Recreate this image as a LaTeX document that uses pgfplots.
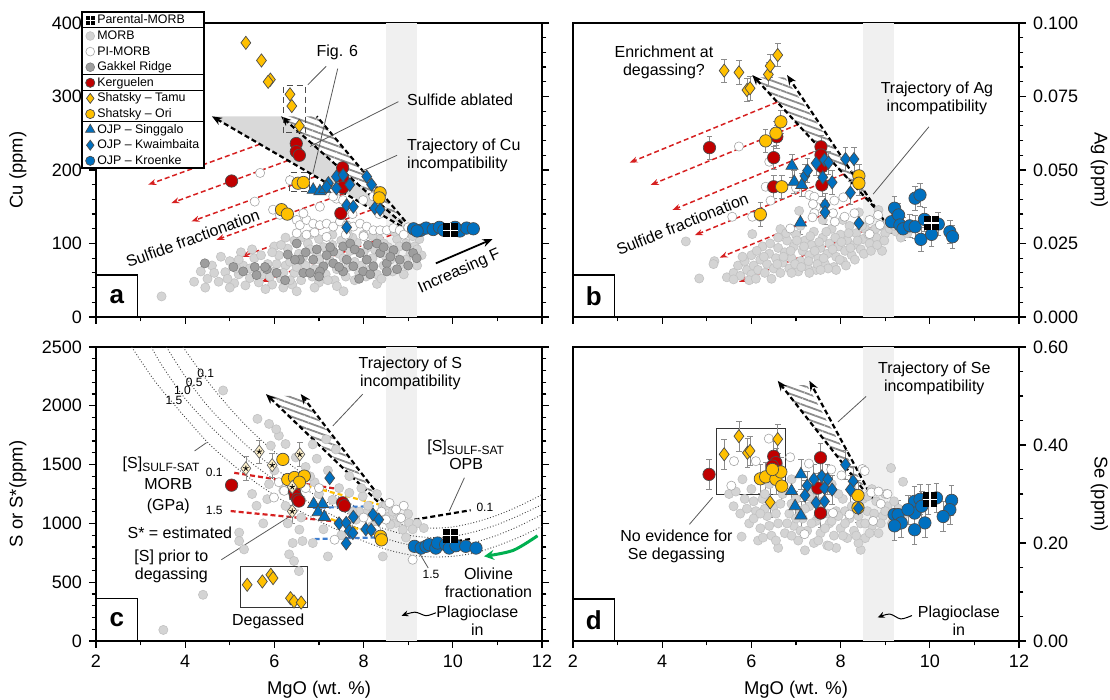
\documentclass[border=0pt]{standalone}
\usepackage{fontspec}
\setmainfont{Liberation Sans}
\usepackage{pgfplots}
\pgfplotsset{compat=1.18}
\usetikzlibrary{arrows.meta,patterns.meta,calc}
\definecolor{kergc}{HTML}{C00000}
\definecolor{yelc}{HTML}{FFC000}
\definecolor{ojpc}{HTML}{0070C0}
\definecolor{starc}{HTML}{FFF2CC}
\definecolor{rdc}{HTML}{D62020}
\definecolor{grnc}{HTML}{00B050}
\definecolor{bldc}{HTML}{3C7DD0}
\newcommand{\annot}{\fontsize{8}{9}\selectfont}
\newcommand{\smalllab}{\fontsize{6}{7}\selectfont}
\newcommand{\panellabel}{\fontsize{13}{14}\selectfont\bfseries}
\pgfdeclareplotmark{parental}{%
  \pgfpathrectangle{\pgfqpoint{-\pgfplotmarksize}{-\pgfplotmarksize}}{\pgfqpoint{2\pgfplotmarksize}{2\pgfplotmarksize}}%
  \pgfsetfillcolor{black}\pgfusepathqfill
  \begin{pgfscope}%
  \pgfsetstrokecolor{white}\pgfsetlinewidth{0.7pt}%
  \pgfpathmoveto{\pgfqpoint{-\pgfplotmarksize}{0pt}}\pgfpathlineto{\pgfqpoint{\pgfplotmarksize}{0pt}}%
  \pgfpathmoveto{\pgfqpoint{0pt}{-\pgfplotmarksize}}\pgfpathlineto{\pgfqpoint{0pt}{\pgfplotmarksize}}%
  \pgfusepathqstroke
  \end{pgfscope}%
}
\tikzset{leader/.style={draw=black!65, line width=0.4pt}}
\pgfplotsset{
  panel/.style={scale only axis, width=223pt, height=147pt, xmin=2, xmax=12,
    axis line style={line width=0.8pt}, tick style={line width=0.6pt, black},
    tick align=outside, major tick length=3.5pt, minor tick length=2.2pt,
    xtick={2,4,...,12}, minor xtick={3,5,...,11}, xtick pos=left,
    tick label style={font=\fontsize{9}{10}\selectfont},
    label style={font=\fontsize{9.2}{11}\selectfont},
    /pgf/number format/assume math mode=true, /pgf/number format/1000 sep={},
    scaled y ticks=false},
  legmark/.style={mark size=#1, legend image code/.code={\draw[##1] plot coordinates {(0pt,0pt)};}},
  morb/.style={only marks, mark=*, mark size=2.3pt, mark options={fill=black!17, draw=black!24, line width=0.3pt}},
  pimorb/.style={only marks, mark=*, mark size=2.3pt, mark options={fill=white, draw=black!35, line width=0.3pt}},
  gakkel/.style={only marks, mark=*, mark size=2.3pt, mark options={fill=black!38, draw=black!50, line width=0.3pt}},
  kerg/.style={only marks, mark=*, mark size=3.1pt, mark options={fill=kergc, draw=black!70, line width=0.35pt}},
  tamu/.style={only marks, mark=diamond*, mark size=3.3pt, mark options={fill=yelc, draw=black!70, line width=0.35pt}},
  ori/.style={only marks, mark=*, mark size=3.1pt, mark options={fill=yelc, draw=black!70, line width=0.35pt}},
  sing/.style={only marks, mark=triangle*, mark size=3.5pt, mark options={fill=ojpc, draw=black!70, line width=0.35pt}},
  kwai/.style={only marks, mark=diamond*, mark size=3.3pt, mark options={fill=ojpc, draw=black!70, line width=0.35pt}},
  kroe/.style={only marks, mark=*, mark size=3.1pt, mark options={fill=ojpc, draw=black!70, line width=0.35pt}},
  parent/.style={only marks, mark=parental, mark size=3.6pt},
  sstar/.style={only marks, mark=diamond*, mark size=3.3pt, mark options={fill=starc, draw=black!60, line width=0.35pt}},
  ebar/.style={error bars/.cd, y dir=both, y fixed=#1, error bar style={black!45, line width=0.35pt}, error mark options={black!45, line width=0.35pt, mark size=1.4pt, rotate=90}},
  redarr/.style={draw=rdc, line width=0.75pt, dash pattern=on 2.5pt off 1.5pt, -{Stealth[length=4pt,width=3pt]}},
  blkarr/.style={draw=black, line width=1.1pt, dash pattern=on 2.5pt off 1.5pt, -{Stealth[length=5pt,width=4pt]}},
  blkdash/.style={draw=black, line width=1.1pt, dash pattern=on 2.5pt off 1.5pt},
  hatch/.style={draw=none, pattern={Lines[angle=-20,distance=3pt,line width=0.9pt]}, pattern color=black!45},
  band/.style={fill=black!6, draw=none},
  lbox/.style={draw=black, fill=white, line width=0.7pt},
  ssat/.style={smooth, draw=black!75, line width=0.45pt, densely dotted},
  cdash/.style={line width=1.1pt, dash pattern=on 2.5pt off 1.5pt},
}
\begin{document}
\begin{tikzpicture}
\useasboundingbox (0,0) rectangle (555pt,350pt);

%================ PANEL A =================
\begin{axis}[panel, at={(48pt,191.5pt)}, anchor=south west,
  ymin=0, ymax=400, ytick={0,100,...,400}, minor y tick num=4, xticklabels={},
  ylabel={Cu (ppm)}, ylabel style={at={(axis description cs:-0.175,0.5)}, anchor=center},
  legend style={at={(axis description cs:-0.031,1.0367)}, anchor=north west, draw=none, fill=white,
    font=\fontsize{6.2}{7}\selectfont, inner xsep=1.5pt, inner ysep=0pt, row sep=0pt, column sep=0pt,
    nodes={inner ysep=0.6pt, inner xsep=1.2pt, text height=5pt, text depth=1.6pt}},
  legend cell align=left]
\addlegendimage{parent, legmark=2.3pt}\addlegendentry{Parental-MORB}
\addlegendimage{morb, legmark=2.2pt}\addlegendentry{MORB}
\addlegendimage{pimorb, legmark=2.2pt}\addlegendentry{PI-MORB}
\addlegendimage{gakkel, legmark=2.2pt}\addlegendentry{Gakkel Ridge}
\addlegendimage{kerg, legmark=2.3pt}\addlegendentry{Kerguelen}
\addlegendimage{tamu, legmark=2.5pt}\addlegendentry{Shatsky -- Tamu}
\addlegendimage{ori, legmark=2.3pt}\addlegendentry{Shatsky -- Ori}
\addlegendimage{sing, legmark=2.7pt}\addlegendentry{OJP -- Singgalo}
\addlegendimage{kwai, legmark=2.5pt}\addlegendentry{OJP -- Kwaimbaita}
\addlegendimage{kroe, legmark=2.3pt}\addlegendentry{OJP -- Kroenke}

\addplot[band] coordinates {(8.5,0)(9.2,0)(9.2,400)(8.5,400)} -- cycle;
\addplot[fill=black!15, draw=none] coordinates {(4.6,273)(6.15,273)(9.0,120)} -- cycle;
\addplot[hatch] coordinates {(6.15,273)(6.95,273)(9.0,122)} -- cycle;

\addplot[morb] coordinates {(4.35,62)(4.5,52)(4.6,70)(4.75,48)(4.9,61)(5.0,76)(5.1,46)(5.2,58)(5.3,70)(5.35,43)(5.45,53)(5.55,80)(5.65,47)(5.75,58)(5.85,72)(5.95,44)(6.0,62)(6.1,84)(6.15,52)(6.25,70)(6.3,93)(6.4,44)(6.45,60)(6.55,86)(6.6,50)(6.7,70)(6.75,100)(6.85,55)(6.95,84)(7.0,47)(7.1,95)(7.15,58)(7.25,76)(7.35,50)(7.45,86)(7.5,104)(7.6,55)(7.7,90)(7.8,50)(7.85,101)(7.95,70)(8.05,55)(8.1,95)(8.2,80)(8.3,58)(8.35,106)(8.45,70)(8.55,95)(8.65,62)(8.75,106)(8.85,72)(8.95,100)(9.05,86)(9.15,96)(9.25,106)(9.3,84)(6.2,40)(6.9,40)(7.4,42)(5.8,38)(4.2,48)(4.45,40)(5.0,40)(5.6,64)(6.35,75)(7.05,65)(7.8,75)(8.5,82)(8.9,58)(6.0,96)(6.6,108)(7.3,112)(8.0,112)(8.7,116)(3.47,28)(5.25,88)(4.8,82)(6.5,35)(7.55,35)(9.2,70)(8.3,45)(5.9,55)(6.05,72)(6.2,60)(6.35,50)(6.5,68)(6.65,82)(6.8,92)(6.9,65)(7.0,78)(7.2,50)(7.3,98)(7.4,65)(7.55,80)(7.65,68)(7.75,108)(7.9,60)(8.0,88)(8.15,65)(8.25,92)(8.4,52)(8.45,100)(8.6,78)(8.7,88)(8.8,96)(8.95,78)(9.1,110)(9.2,92)(6.15,98)(6.45,104)(7.0,106)(7.65,112)(8.2,110)(5.2,78)(5.45,66)(5.7,84)(5.95,88)(4.95,52)(4.65,60)(5.15,66)(5.5,92)(6.25,108)(6.8,112)};
\addplot[gakkel] coordinates {(4.44,73)(5.08,68)(5.56,68)(5.83,65)(5.60,57)(6.50,100)(6.57,78)(6.65,60)(6.87,78)(7.10,69)(7.32,89)(7.32,73)(7.54,96)(7.62,78)(7.77,69)(7.92,87)(8.07,78)(8.22,69)(8.37,87)(8.52,73)(8.67,91)(8.81,78)(8.96,96)(9.11,87)(6.80,60)(7.02,62)(7.54,62)(6.46,78)(7.99,62)(8.52,62)(9.19,80)(7.17,84)(6.24,50)(5.79,68)(6.95,92)(7.7,100)(8.3,100)(6.3,85)(6.7,88)(7.0,55)(7.25,95)(7.45,68)(7.8,92)(8.1,98)(8.45,95)(8.6,82)(8.75,65)(9.0,70)(6.05,60)(5.3,62)(7.9,52)(8.15,58)};
\addplot[pimorb] coordinates {(5.68,196)(5.56,157)(5.97,146)(6.50,132)(6.57,125)(6.72,132)(6.87,127)(7.02,125)(7.17,127)(7.32,123)(7.47,130)(7.62,125)(7.77,123)(7.92,127)(8.07,123)(8.22,118)(8.37,118)(8.52,118)(8.67,121)(8.81,118)(6.50,114)(6.72,112)(7.17,109)(7.39,161)(7.54,159)(7.99,159)(8.22,164)(6.35,186)(7.32,164)(7.02,150)(6.65,141)(6.12,139)(6.9,115)(7.6,112)(8.0,110)(8.9,112)(9.0,122)(7.75,140)(8.35,140)};

\addplot[redarr] coordinates {(5.67,235)(3.17,180)};
\addplot[redarr] coordinates {(6.31,213)(3.69,155)};
\addplot[redarr] coordinates {(6.92,191)(4.14,130)};
\addplot[redarr] coordinates {(7.57,168)(4.70,105)};
\addplot[redarr] coordinates {(8.19,146)(5.26,82)};
\addplot[redarr] coordinates {(8.96,119)(5.71,48)};
\addplot[blkarr] coordinates {(9.0,118)(4.6,273)};
\addplot[blkarr] coordinates {(9.0,120)(6.15,273)};
\addplot[blkdash] coordinates {(9.05,122)(6.95,273)};
\addplot[draw=black, line width=0.9pt, -{Stealth[length=5pt,width=4pt]}] coordinates {(9.62,73)(10.89,106)};

\draw[densely dashed, black!70, line width=0.5pt] (axis cs:6.21,251) rectangle (axis cs:6.70,315);
\draw[densely dashed, black!70, line width=0.5pt] (axis cs:6.33,171) rectangle (axis cs:6.79,196);
\draw[leader] (axis cs:7.16,341) -- (axis cs:6.75,316);
\draw[leader] (axis cs:7.42,338) -- (axis cs:6.86,195);
\draw[leader] (axis cs:8.78,293) -- (axis cs:6.8,232);
\draw[leader] (axis cs:8.75,220) -- (axis cs:7.95,198);

\addplot[kerg] coordinates {(6.49,236)(6.49,225)(6.56,220)(5.04,185)(7.53,203)(7.53,190)(7.53,176)(7.49,141)};
\addplot[tamu] coordinates {(5.36,373)(5.71,349)(5.91,323)(5.86,320)(6.35,303)(6.39,287)(6.56,260)};
\addplot[ori] coordinates {(6.53,182)(6.65,183)(6.16,146)(6.29,140)(8.37,169)(8.35,162)};
\addplot[sing] coordinates {(6.87,173)(7.02,171)(7.13,174)};
\addplot[kwai] coordinates {(7.39,191)(7.54,193)(7.21,182)(7.39,175)(7.69,180)(8.07,191)(8.18,180)(7.62,152)(7.77,150)(7.62,122)(8.25,148)(8.37,146)(7.17,177)};
\addplot[kroe] coordinates {(9.12,120)(9.28,118)(9.40,121)(9.56,119)(9.70,122)(9.80,118)(10.16,117)(10.31,121)(10.46,120)(9.20,117)(10.05,122)};
\addplot[parent] coordinates {(9.95,118)};

\node[font=\annot, rotate=20] at (axis cs:4.17,107) {Sulfide fractionation};
\node[font=\annot, rotate=24] at (axis cs:10.15,62) {Increasing F};
\node[font=\annot] at (axis cs:7.41,360) {Fig. 6};
\node[font=\annot, anchor=west] at (axis cs:8.82,295) {Sulfide ablated};
\node[font=\annot, anchor=west, align=left] at (axis cs:8.82,220) {Trajectory of Cu\\incompatibility};
\addplot[lbox] coordinates {(2,0)(2.93,0)(2.93,57)(2,57)} -- cycle;
\node[font=\panellabel] at (axis cs:2.465,28) {a};
\end{axis}
% legend frame and separators
\draw[line width=0.7pt] (41pt,343.9pt) rectangle (102pt,265.9pt);
\foreach \k in {1,4,5,7} {\draw[line width=0.6pt] (41pt,{343.9pt-\k*7.8pt}) -- (102pt,{343.9pt-\k*7.8pt});}

%================ PANEL B =================
\begin{axis}[panel, at={(286.5pt,191.5pt)}, anchor=south west,
  ymin=0, ymax=0.1, ytick={0,0.025,...,0.1}, minor y tick num=4, xticklabels={},
  ytick pos=right, yticklabel pos=right,
  yticklabel style={/pgf/number format/.cd, fixed, fixed zerofill, precision=3},
  ylabel={Ag (ppm)}, ylabel style={at={(axis description cs:1.18,0.5)}, anchor=center, rotate=180}]
\addplot[band] coordinates {(8.5,0)(9.2,0)(9.2,0.1)(8.5,0.1)} -- cycle;
\addplot[hatch] coordinates {(6.08,0.0815)(6.75,0.0815)(8.95,0.034)} -- cycle;
\addplot[morb] coordinates {(5.45,0.0135)(5.6,0.0150)(5.75,0.0140)(5.9,0.0160)(5.7,0.0175)(5.85,0.0190)(6.0,0.0145)(6.05,0.0175)(6.15,0.0160)(6.2,0.0195)(6.3,0.0150)(6.35,0.0180)(6.4,0.0215)(6.5,0.0165)(6.55,0.0200)(6.6,0.0235)(6.65,0.0150)(6.7,0.0185)(6.75,0.0220)(6.8,0.0260)(6.85,0.0165)(6.9,0.0200)(6.95,0.0240)(7.0,0.0280)(7.05,0.0155)(7.1,0.0190)(7.15,0.0225)(7.2,0.0260)(7.25,0.0170)(7.3,0.0210)(7.35,0.0245)(7.4,0.0290)(7.45,0.0160)(7.5,0.0200)(7.55,0.0235)(7.6,0.0270)(7.65,0.0180)(7.7,0.0215)(7.75,0.0250)(7.8,0.0300)(7.85,0.0170)(7.9,0.0205)(7.95,0.0240)(8.0,0.0280)(8.05,0.0190)(8.1,0.0225)(8.15,0.0260)(8.2,0.0310)(8.25,0.0210)(8.3,0.0245)(8.35,0.0285)(8.45,0.0230)(8.5,0.0265)(8.55,0.0300)(8.65,0.0250)(8.7,0.0290)(8.8,0.0270)(8.9,0.0310)(9.0,0.0285)(9.1,0.0300)(9.25,0.0290)(6.0,0.0210)(6.25,0.0240)(5.95,0.0125)(6.45,0.0130)(7.3,0.0150)(7.9,0.0160)(8.05,0.0330)(7.6,0.0330)(7.1,0.0310)(6.6,0.0270)(4.53,0.0257)(5.17,0.0190)(5.15,0.0180)(4.83,0.0131)(5.60,0.0128)(6.02,0.0282)(6.65,0.0299)(7.07,0.0361)(8.41,0.0356)(8.85,0.0364)(8.93,0.0225)(9.35,0.0270)(9.5,0.0285)(6.12,0.0225)(6.28,0.0205)(6.42,0.0250)(6.58,0.0180)(6.72,0.0205)(6.78,0.0285)(6.88,0.0225)(6.98,0.0180)(7.02,0.0260)(7.12,0.0170)(7.18,0.0240)(7.28,0.0190)(7.32,0.0275)(7.42,0.0225)(7.48,0.0180)(7.52,0.0255)(7.62,0.0200)(7.68,0.0290)(7.72,0.0165)(7.82,0.0230)(7.88,0.0270)(7.98,0.0195)(8.02,0.0255)(8.12,0.0175)(8.18,0.0285)(8.22,0.0235)(8.32,0.0195)(8.38,0.0260)(8.48,0.0310)(8.52,0.0215)(8.62,0.0280)(8.68,0.0225)(8.78,0.0300)(8.82,0.0245)(8.98,0.0260)(9.05,0.0320)(9.2,0.0310)(5.8,0.0205)(6.1,0.0130)(6.9,0.0150)(7.55,0.0160)};
\addplot[pimorb] coordinates {(5.72,0.0580)(6.40,0.0528)(6.32,0.0443)(6.45,0.0440)(7.30,0.0415)(7.41,0.0409)(7.45,0.0375)(7.83,0.0353)(7.87,0.0324)(8.09,0.0341)(8.31,0.0353)(5.57,0.0341)(6.02,0.0341)(7.41,0.0353)(8.84,0.0347)(8.88,0.0313)(8.65,0.0330)(6.87,0.0301)(7.37,0.0339)(8.06,0.0407)(8.65,0.0282)(7.38,0.0384)(7.86,0.0396)(6.43,0.0396)(6.2,0.0340)(7.0,0.0440)};
\addplot[redarr] coordinates {(6.58,0.0731)(3.27,0.0525)};
\addplot[redarr] coordinates {(7.05,0.0655)(3.74,0.0449)};
\addplot[redarr] coordinates {(7.55,0.0571)(4.23,0.0364)};
\addplot[redarr] coordinates {(8.07,0.0486)(4.73,0.0278)};
\addplot[redarr] coordinates {(8.56,0.0407)(5.29,0.0202)};
\addplot[redarr] coordinates {(9.05,0.0326)(5.72,0.0119)};
\addplot[blkarr] coordinates {(8.88,0.0353)(6.02,0.0823)};
\addplot[blkarr] coordinates {(8.99,0.0324)(6.80,0.0823)};
\draw[leader] (axis cs:9.98,0.0647) -- (axis cs:8.73,0.0418);
\addplot[kerg, ebar=0.004] coordinates {(5.06,0.0576)(6.50,0.0542)(6.57,0.0613)(6.50,0.0443)(7.56,0.0579)(7.56,0.0551)(7.58,0.0511)(7.58,0.0449)};
\addplot[tamu, ebar=0.004] coordinates {(5.39,0.0838)(5.72,0.0832)(5.90,0.0772)(5.97,0.0778)(6.38,0.0825)(6.42,0.0854)(6.59,0.0891)};
\addplot[ori, ebar=0.004] coordinates {(6.55,0.0625)(6.66,0.0664)(6.32,0.0599)(6.68,0.0443)(6.20,0.0349)(8.41,0.0480)(8.41,0.0455)};
\addplot[sing, ebar=0.004] coordinates {(6.91,0.0514)(6.96,0.0460)(7.13,0.0449)(7.10,0.0321)};
\addplot[kwai, ebar=0.004] coordinates {(7.20,0.0480)(7.26,0.0498)(7.45,0.0523)(7.64,0.0534)(7.73,0.0525)(7.60,0.0475)(7.81,0.0458)(8.11,0.0537)(8.30,0.0537)(8.22,0.0423)(7.65,0.0381)(7.65,0.0356)(8.41,0.0319)};
\addplot[kroe, ebar=0.004] coordinates {(9.14,0.0324)(9.21,0.0370)(9.30,0.0347)(9.33,0.0313)(9.40,0.0300)(9.55,0.0310)(9.67,0.0404)(9.78,0.0415)(9.67,0.0307)(9.88,0.0332)(9.80,0.0264)(10.04,0.0281)(10.19,0.0316)(10.45,0.0290)(10.51,0.0273)};
\addplot[parent] coordinates {(10.04,0.032)};
\node[font=\annot, align=center] at (axis cs:4.04,0.0866) {Enrichment at\\degassing?};
\node[font=\annot, align=center] at (axis cs:10.16,0.0745) {Trajectory of Ag\\incompatibility};
\node[font=\annot, rotate=22] at (axis cs:4.45,0.0316) {Sulfide fractionation};
\addplot[lbox] coordinates {(2,0)(2.93,0)(2.93,0.0143)(2,0.0143)} -- cycle;
\node[font=\panellabel] at (axis cs:2.465,0.0072) {b};
\end{axis}

%================ PANEL C =================
\begin{axis}[panel, at={(48pt,29.5pt)}, anchor=south west,
  ymin=0, ymax=2500, ytick={0,500,...,2500}, minor y tick num=4,
  ylabel={S or S*(ppm)}, ylabel style={at={(axis description cs:-0.175,0.5)}, anchor=center},
  xlabel={MgO (wt. \%)}, xlabel style={at={(axis description cs:0.5,-0.167)}, anchor=center}]
\addplot[band] coordinates {(8.5,0)(9.2,0)(9.2,2500)(8.5,2500)} -- cycle;
\addplot[ssat] coordinates {(3.95,2500)(4.5,2210)(5,1980)(5.5,1780)(6,1610)(6.5,1460)(7,1330)(7.5,1210)(8,1110)(8.5,1030)(9,980)(9.5,960)(10,970)(10.5,1010)(11,1070)(11.5,1150)(12,1245)};
\addplot[ssat] coordinates {(3.58,2500)(4,2250)(4.5,2000)(5,1800)(5.5,1620)(6,1470)(6.5,1340)(7,1220)(7.5,1110)(8,1020)(8.5,950)(9,900)(9.5,880)(10,890)(10.5,930)(11,990)(11.5,1070)(12,1160)};
\addplot[ssat] coordinates {(3.24,2500)(3.5,2330)(4,2060)(4.5,1850)(5,1670)(5.5,1510)(6,1370)(6.5,1240)(7,1130)(7.5,1030)(8,940)(8.5,870)(9,820)(9.5,800)(10,805)(10.5,840)(11,900)(11.5,980)(12,1075)};
\addplot[ssat] coordinates {(2.8,2500)(3.3,2220)(3.8,1990)(4.5,1690)(5,1520)(5.5,1370)(6,1240)(6.5,1120)(7,1020)(7.5,930)(8,850)(8.5,780)(9,735)(9.5,715)(10,720)(10.5,750)(11,810)(11.5,885)(12,975)};
\addplot[hatch] coordinates {(5.85,2085)(6.58,2085)(8.38,1185)} -- cycle;
\addplot[morb] coordinates {(3.51,94)(4.40,393)(4.85,2130)(5.21,922)(5.21,850)(5.32,779)(5.62,1889)(5.88,1846)(5.92,1661)(6.10,1746)(6.25,1675)(6.48,1561)(5.88,1334)(5.84,1206)(6.25,1149)(6.33,737)(6.63,850)(6.44,680)(6.55,594)(6.04,1800)(6.86,1672)(7.16,1715)(7.38,1629)(7.68,1402)(7.98,1231)(7.68,1260)(8.43,1146)(8.58,1061)(8.73,1004)(8.88,947)(9.02,1004)(8.05,1089)(8.28,1032)(7.83,1032)(6.56,947)(6.41,833)(6.86,833)(7.20,719)(8.43,719)(6.0,1450)(6.2,1280)(6.7,1480)(6.9,1350)(7.0,1250)(7.3,1200)(7.45,1300)(7.9,1100)(8.1,1150)(8.2,980)(8.5,1150)(8.65,1100)(8.8,1050)(9.0,1080)(9.2,1000)(9.35,960)(8.95,880)(7.5,900)(7.1,950)(6.6,1050)(6.3,1000)(5.6,1150)(5.75,1000)(5.5,1250)(6.95,1550)(7.2,1450)(6.8,1400)(7.6,1150)(8.3,1250)(7.95,1300)(8.6,990)(8.35,1080)(7.75,1100)(9.1,950)};
\addplot[pimorb] coordinates {(5.99,1220)(6.22,1277)(7.35,861)(8.58,1174)(8.73,1118)(8.84,1046)(8.50,1032)(8.28,947)(9.10,691)(6.7,1300)(7.0,1300)(8.0,1050)(8.4,1100)(8.9,1150)(6.1,1350)(6.6,1200)};
\addplot[blkarr] coordinates {(8.32,1185)(5.81,2100)};
\addplot[blkarr] coordinates {(8.45,1180)(6.59,2100)};
\addplot[cdash, draw=rdc] coordinates {(5.1,1430)(7.55,1285)};
\addplot[cdash, draw=rdc] coordinates {(5.02,1105)(7.55,1010)};
\addplot[cdash, draw=yelc] coordinates {(6.2,1370)(8.35,1160)};
\addplot[cdash, draw=yelc] coordinates {(7.1,1060)(8.4,880)};
\addplot[cdash, draw=bldc] coordinates {(6.86,1132)(8.28,1146)};
\addplot[cdash, draw=bldc] coordinates {(6.90,867)(8.32,881)};
\addplot[cdash, draw=black] coordinates {(9.14,1032)(10.40,1112)};
\addplot[cdash, draw=black] coordinates {(9.21,799)(10.40,867)};
\addplot[smooth, draw=grnc, line width=1.5pt, -{Stealth[length=5pt,width=5pt]}] coordinates {(11.9,895)(11.35,770)(10.7,720)};
\addplot[smooth, draw=black, line width=0.5pt, -{Stealth[length=3.5pt,width=3pt]}] coordinates {(9.62,240)(9.4,215)(9.15,245)(8.85,215)};
\draw[black!80, line width=0.6pt] (axis cs:5.24,285) rectangle (axis cs:6.74,634);
\draw[leader] (axis cs:4.21,1616) -- (axis cs:4.48,1687);
\draw[leader] (axis cs:4.81,691) -- (axis cs:6.41,1075);
\draw[leader] (axis cs:7.98,2099) -- (axis cs:7.31,1829);
\draw[leader] (axis cs:10.26,1388) -- (axis cs:9.92,1104);
\draw[leader] (axis cs:9.45,620) -- (axis cs:9.25,748);
\addplot[tamu] coordinates {(5.39,478)(5.73,506)(5.92,563)(5.97,535)(6.36,364)(6.44,336)(6.60,327)};
\addplot[kerg] coordinates {(5.04,1325)(6.45,1270)(6.47,1237)(6.52,1205)(6.55,1190)(7.53,1175)(7.57,1150)};
\addplot[ori] coordinates {(6.19,1544)(6.30,1373)(6.45,1390)(6.67,1402)(6.56,1350)(8.38,890)(8.40,860)};
\addplot[sing] coordinates {(6.88,1165)(7.08,1165)(6.98,1095)(7.12,1055)};
\addplot[kwai] coordinates {(7.24,1385)(7.45,1000)(7.61,1004)(7.77,1055)(7.68,935)(7.61,830)(8.21,1075)(8.34,1032)(8.05,950)(8.17,945)(7.76,918)};
\addplot[kroe] coordinates {(9.14,805)(9.29,790)(9.40,805)(9.47,819)(9.62,790)(9.66,833)(9.84,819)(9.92,790)(10.07,810)(10.29,805)(10.52,790)};
\addplot[parent] coordinates {(9.95,895)};
\addplot[sstar, ebar=100] coordinates {(5.36,1468)(5.66,1610)(5.95,1495)(6.40,1310)(6.40,1103)(6.57,1587)};
\addplot[only marks, mark=star, mark size=1.4pt, mark options={black, line width=0.4pt}] coordinates {(5.36,1468)(5.66,1610)(5.95,1495)(6.40,1310)(6.40,1103)(6.57,1587)};
\node[font=\smalllab] at (axis cs:4.46,2272) {0.1};
\node[font=\smalllab] at (axis cs:4.20,2201) {0.5};
\node[font=\smalllab] at (axis cs:3.94,2130) {1.0};
\node[font=\smalllab] at (axis cs:3.75,2045) {1.5};
\node[font=\smalllab] at (axis cs:4.65,1433) {0.1};
\node[font=\smalllab] at (axis cs:4.65,1106) {1.5};
\node[font=\smalllab] at (axis cs:10.72,1140) {0.1};
\node[font=\smalllab] at (axis cs:9.51,563) {1.5};
\node[font=\annot] at (axis cs:3.47,1502) {[S]\textsubscript{SULF-SAT}};
\node[font=\annot] at (axis cs:3.62,1331) {MORB};
\node[font=\annot] at (axis cs:3.62,1146) {(GPa)};
\node[font=\annot] at (axis cs:3.88,919) {S* = estimated};
\node[font=\annot] at (axis cs:3.69,711) {[S] prior to};
\node[font=\annot] at (axis cs:3.69,555) {degassing};
\node[font=\annot] at (axis cs:5.86,165) {Degassed};
\node[font=\annot, align=center] at (axis cs:9.05,2277) {Trajectory of S\\incompatibility};
\node[font=\annot, align=center] at (axis cs:10.3,1580) {[S]\textsubscript{SULF-SAT}\\OPB};
\node[font=\annot, align=center] at (axis cs:10.8,499) {Olivine\\fractionation};
\node[font=\annot, align=center] at (axis cs:10.55,172) {Plagioclase\\in};
\addplot[lbox] coordinates {(2,0)(2.93,0)(2.93,360)(2,360)} -- cycle;
\node[font=\panellabel] at (axis cs:2.465,180) {c};
\end{axis}

%================ PANEL D =================
\begin{axis}[panel, at={(286.5pt,29.5pt)}, anchor=south west,
  ymin=0, ymax=0.6, ytick={0,0.2,0.4,0.6}, minor y tick num=3,
  ytick pos=right, yticklabel pos=right,
  yticklabel style={/pgf/number format/.cd, fixed, fixed zerofill, precision=2},
  ylabel={Se (ppm)}, ylabel style={at={(axis description cs:1.18,0.5)}, anchor=center, rotate=180},
  xlabel={MgO (wt. \%)}, xlabel style={at={(axis description cs:0.5,-0.167)}, anchor=center}]
\addplot[band] coordinates {(8.5,0)(9.2,0)(9.2,0.6)(8.5,0.6)} -- cycle;
\addplot[hatch] coordinates {(6.65,0.522)(7.25,0.522)(8.62,0.30)} -- cycle;
\addplot[morb] coordinates {(5.5,0.300)(5.6,0.275)(5.75,0.260)(5.85,0.290)(5.95,0.240)(6.0,0.310)(6.1,0.265)(6.2,0.230)(6.25,0.290)(6.35,0.255)(6.45,0.215)(6.5,0.275)(6.6,0.240)(6.7,0.300)(6.75,0.220)(6.85,0.260)(6.95,0.235)(7.0,0.290)(7.05,0.205)(7.15,0.250)(7.25,0.225)(7.3,0.275)(7.4,0.200)(7.45,0.245)(7.55,0.220)(7.6,0.285)(7.7,0.195)(7.75,0.240)(7.85,0.215)(7.9,0.265)(8.0,0.230)(8.05,0.290)(8.15,0.210)(8.2,0.250)(8.3,0.225)(8.35,0.275)(8.45,0.240)(8.55,0.210)(8.6,0.265)(8.7,0.235)(8.8,0.285)(8.85,0.220)(8.95,0.255)(9.05,0.275)(9.15,0.240)(9.3,0.270)(9.4,0.255)(6.4,0.320)(6.9,0.330)(7.35,0.310)(7.8,0.320)(8.25,0.310)(8.7,0.310)(5.8,0.330)(6.15,0.205)(7.9,0.190)(8.45,0.186)(5.78,0.213)(6.26,0.211)(9.13,0.353)(9.40,0.325)(7.74,0.194)(6.6,0.190)(7.2,0.185)(6.05,0.250)(6.55,0.205)(7.1,0.265)(7.5,0.255)(8.1,0.265)(8.5,0.290)(9.0,0.300)(6.3,0.300)(5.65,0.305)(7.95,0.300)(8.4,0.200)(6.9,0.215)(6.05,0.285)(6.3,0.270)(6.4,0.235)(6.55,0.260)(6.65,0.280)(6.8,0.240)(6.9,0.280)(7.0,0.250)(7.1,0.225)(7.2,0.270)(7.35,0.240)(7.4,0.290)(7.5,0.205)(7.55,0.270)(7.65,0.230)(7.7,0.260)(7.8,0.245)(7.95,0.255)(8.05,0.215)(8.1,0.240)(8.25,0.275)(8.35,0.215)(8.4,0.255)(8.55,0.240)(8.65,0.220)(8.75,0.260)(8.9,0.240)(9.0,0.265)(9.2,0.285)(9.3,0.245)(8.6,0.295)(7.3,0.295)(6.2,0.260)(5.9,0.270)};
\addplot[pimorb] coordinates {(5.55,0.317)(6.39,0.413)(6.87,0.375)(7.29,0.362)(8.02,0.338)(8.49,0.351)(8.69,0.303)(8.85,0.305)(7.19,0.218)(8.73,0.245)(6.10,0.367)(5.61,0.367)(8.20,0.258)(7.83,0.261)(7.79,0.350)(8.54,0.347)(9.05,0.300)(8.9,0.28)(6.6,0.36)};
\addplot[blkarr] coordinates {(8.5,0.31)(6.59,0.531)};
\addplot[blkarr] coordinates {(8.72,0.29)(7.30,0.531)};
\draw[black!80, line width=0.6pt] (axis cs:5.21,0.299) rectangle (axis cs:6.76,0.433);
\draw[leader] (axis cs:8.57,0.499) -- (axis cs:7.94,0.447);
\draw[leader] (axis cs:4.61,0.238) -- (axis cs:5.13,0.293);
\addplot[smooth, draw=black, line width=0.5pt, -{Stealth[length=3.5pt,width=3pt]}] coordinates {(9.6,0.052)(9.35,0.045)(9.1,0.055)(8.83,0.048)};
\addplot[tamu, ebar=0.03] coordinates {(5.39,0.381)(5.72,0.418)(5.91,0.384)(5.97,0.388)(6.59,0.412)(6.42,0.283)};
\addplot[kerg, ebar=0.03] coordinates {(5.05,0.340)(6.50,0.377)(6.55,0.364)(6.47,0.357)(7.55,0.374)(7.55,0.261)(7.49,0.312)};
\addplot[ori, ebar=0.03] coordinates {(6.20,0.331)(6.32,0.335)(6.55,0.330)(6.66,0.345)(6.68,0.316)(6.47,0.350)(8.39,0.297)(8.39,0.272)};
\addplot[sing, ebar=0.03] coordinates {(7.11,0.340)(6.90,0.306)(6.98,0.275)(7.11,0.256)};
\addplot[kwai, ebar=0.03] coordinates {(8.11,0.360)(7.40,0.330)(7.58,0.336)(7.71,0.330)(7.25,0.317)(7.64,0.312)(7.81,0.309)(7.20,0.297)(7.45,0.282)(7.64,0.285)(8.28,0.326)(8.22,0.309)(8.40,0.271)};
\addplot[kroe, ebar=0.03] coordinates {(9.20,0.258)(9.29,0.258)(9.36,0.241)(9.21,0.235)(9.66,0.285)(9.78,0.289)(9.66,0.261)(9.89,0.241)(9.66,0.227)(10.15,0.292)(10.49,0.287)(10.45,0.268)(10.30,0.254)(9.97,0.289)(9.51,0.268)(9.82,0.275)};
\addplot[parent] coordinates {(10.0,0.289)};
\node[font=\annot, align=center] at (axis cs:10.1,0.535) {Trajectory of Se\\incompatibility};
\node[font=\annot, align=center] at (axis cs:4.32,0.193) {No evidence for\\Se degassing};
\node[font=\annot, align=center] at (axis cs:10.65,0.041) {Plagioclase\\in};
\addplot[lbox] coordinates {(2,0)(2.93,0)(2.93,0.086)(2,0.086)} -- cycle;
\node[font=\panellabel] at (axis cs:2.465,0.043) {d};
\end{axis}
\end{tikzpicture}
\end{document}
